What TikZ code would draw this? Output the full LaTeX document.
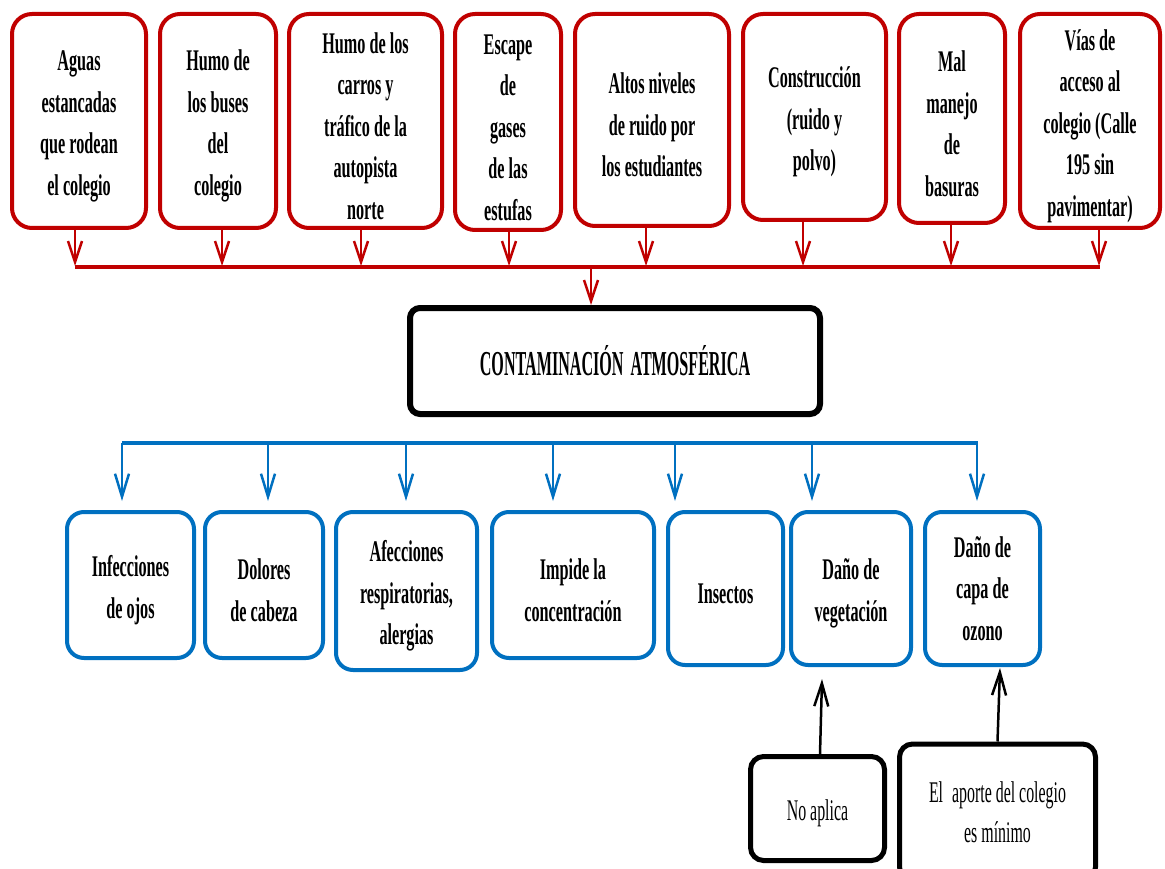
\documentclass[tikz,border=0pt]{standalone}
\usepackage{fontspec}
\usetikzlibrary{arrows.meta}
\newfontfamily\condserif[FakeStretch=0.54]{Liberation Serif}
\newfontfamily\titleserif[FakeStretch=0.46]{Liberation Serif}
\newfontfamily\noteserif[FakeStretch=0.53]{Liberation Serif}
\definecolor{cred}{HTML}{C00000}
\definecolor{cblue}{HTML}{0070C0}
\newcommand\causefont{\condserif\bfseries\fontsize{30}{41.5}\selectfont}
\newcommand\titlefont{\titleserif\bfseries\fontsize{35}{40}\selectfont}
\newcommand\notefont{\noteserif\fontsize{30}{40}\selectfont}
% taller first line: moves a text block a few points down inside its box
\newcommand\lowerstrut{\rule{0pt}{31pt}}

\begin{document}
\begin{tikzpicture}[x=1pt,y=-1pt,
  causebox/.style={draw=cred, line width=4pt, rounded corners=20pt, fill=white,
    inner sep=0pt, align=center, font=\causefont},
  effectbox/.style={draw=cblue, line width=4pt, rounded corners=17pt, fill=white,
    inner sep=0pt, align=center, font=\causefont},
  mainbox/.style={draw=black, line width=6pt, rounded corners=10pt, fill=white,
    inner sep=0pt, align=center, font=\titlefont},
  notebox/.style={draw=black, line width=5pt, rounded corners=13pt, fill=white,
    inner sep=0pt, align=center, font=\notefont},
  redbar/.style={draw=cred, line width=4pt},
  bluebar/.style={draw=cblue, line width=4pt},
  redarrow/.style={draw=cred, line width=2.5pt,
    -{Straight Barb[length=21pt,width=14pt,line width=2.5pt]}},
  bluearrow/.style={draw=cblue, line width=2.5pt,
    -{Straight Barb[length=23pt,width=14pt,line width=2.5pt]}},
  blackarrow/.style={draw=black, line width=2.5pt,
    -{Straight Barb[length=23pt,width=14pt,line width=2.5pt]}},
]
\useasboundingbox (0,0) rectangle (1165,869);

% causes
\node[causebox, minimum width=134pt, minimum height=214pt] (c1) at (79,121)
  {\lowerstrut Aguas\\estancadas\\que rodean\\el colegio};
\node[causebox, minimum width=116pt, minimum height=214pt] (c2) at (218,121)
  {\lowerstrut Humo de\\los buses\\del\\colegio};
\node[causebox, minimum width=153pt, minimum height=214pt] (c3) at (365.5,121)
  {\lowerstrut Humo de los\\carros y\\tráfico de la\\autopista\\norte};
\node[causebox, minimum width=106pt, minimum height=216pt] (c4) at (508,122)
  {\lowerstrut Escape\\de\\gases\\de las\\estufas};
\node[causebox, minimum width=154pt, minimum height=212pt] (c5) at (652,120)
  {\lowerstrut Altos niveles\\de ruido por\\los estudiantes};
\node[causebox, minimum width=143pt, minimum height=206pt] (c6) at (814.5,117)
  {\lowerstrut Construcción\\(ruido y\\polvo)};
\node[causebox, minimum width=106pt, minimum height=209pt] (c7) at (952,118.5)
  {\lowerstrut Mal\\manejo\\de\\basuras};
\node[causebox, minimum width=140pt, minimum height=214pt] (c8) at (1090,121)
  {\lowerstrut Vías de\\acceso al\\colegio (Calle\\195 sin\\pavimentar)};

% collecting bar and arrows
\coordinate (rbL) at (75,267);
\coordinate (rbR) at (1100,267);
\draw[redbar] (rbL) -- (rbR);
\foreach \n/\x in {c1/75, c2/222, c3/361, c4/509, c5/646, c6/803, c7/951, c8/1099}{
  \coordinate (t-\n) at (\x,266);
  \draw[redarrow] (t-\n |- \n.south) -- (t-\n);
}

% central node
\node[mainbox, minimum width=410pt, minimum height=106pt] (main) at (615,361)
  {CONTAMINACIÓN\hspace{7pt}ATMOSFÉRICA};
\coordinate (mid) at (591,267);
\draw[redarrow] (mid) -- (mid |- main.north);

% effects
\node[effectbox, minimum width=127pt, minimum height=146pt] (e1) at (130.5,585)
  {\lowerstrut Infecciones\\de ojos};
\node[effectbox, minimum width=118pt, minimum height=146pt] (e2) at (264,585)
  {\lowerstrut Dolores\\de cabeza};
\node[effectbox, minimum width=141pt, minimum height=158pt] (e3) at (406.5,591)
  {\lowerstrut Afecciones\\respiratorias,\\alergias};
\node[effectbox, minimum width=162pt, minimum height=146pt] (e4) at (573,585)
  {\lowerstrut Impide la\\concentración};
\node[effectbox, minimum width=115pt, minimum height=153pt] (e5) at (725.5,588.5)
  {\lowerstrut Insectos};
\node[effectbox, minimum width=120pt, minimum height=153pt] (e6) at (851,588.5)
  {\lowerstrut Daño de\\vegetación};
\node[effectbox, minimum width=115pt, minimum height=153pt] (e7) at (982.5,588.5)
  {Daño de\\capa de\\ozono};

% distribution bar and arrows
\coordinate (bbL) at (122,443);
\coordinate (bbR) at (978,443);
\draw[bluebar] (bbL) -- (bbR);
\foreach \n/\x in {e1/122, e2/268, e3/406, e4/553, e5/675, e6/812, e7/977}{
  \coordinate (u-\n) at (\x,501);
  \draw[bluearrow] (u-\n |- bbL) -- (u-\n);
}

% notes
\node[notebox, minimum width=134pt, minimum height=104pt] (n1) at (817.5,808.5)
  {\lowerstrut No aplica};
\node[notebox, minimum width=196pt, minimum height=136pt] (n2) at (997.5,812)
  {El\, aporte del colegio\\es mínimo};
\coordinate (v1) at (822,679);
\coordinate (v2) at (1000,668);
\draw[blackarrow] ([xshift=2.5pt]n1.north) -- (v1);
\draw[blackarrow] (n2.north) -- (v2);
\end{tikzpicture}
\end{document}
